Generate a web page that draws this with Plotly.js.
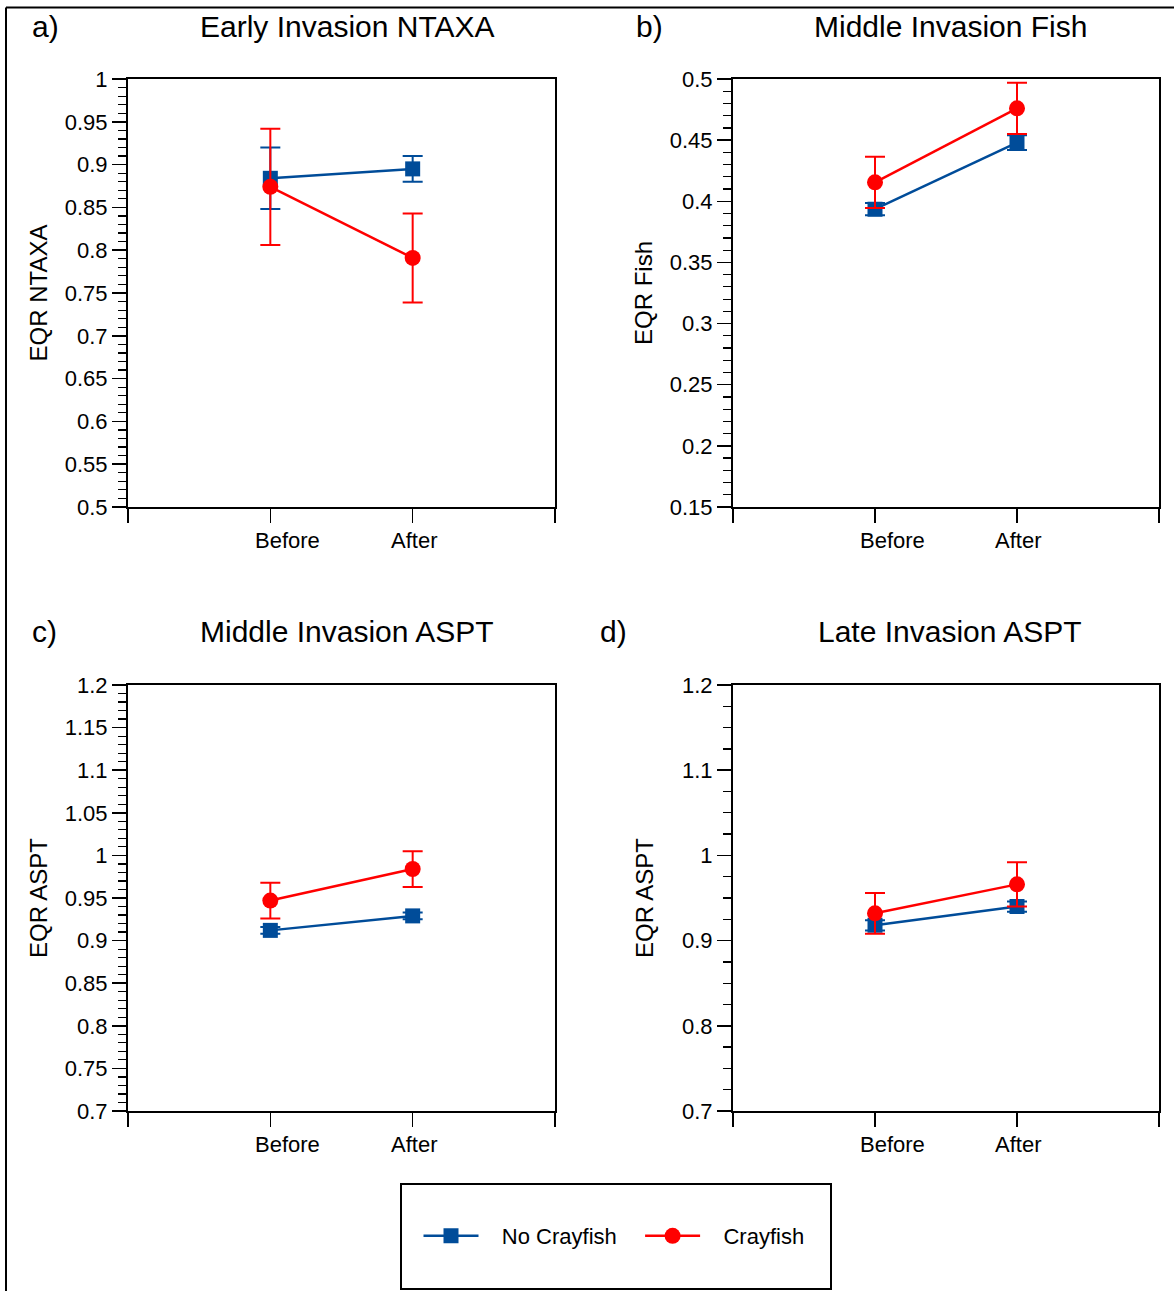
<!DOCTYPE html>
<html>
<head>
<meta charset="utf-8">
<script src="https://cdn.plot.ly/plotly-3.0.1.min.js"></script>
<style>html,body{margin:0;padding:0;background:#fff}#chart{width:1174px;height:1291px}</style>
</head>
<body>
<div id="chart"></div>
<script>
// ---- data ----
const categories = ['Before', 'After'];
const seriesNames = ['No Crayfish', 'Crayfish'];

const panelTitles = ['Early Invasion NTAXA', 'Middle Invasion Fish', 'Middle Invasion ASPT', 'Late Invasion ASPT'];
const panelLetters = ['a)', 'b)', 'c)', 'd)'];
const yTitles = ['EQR NTAXA', 'EQR Fish', 'EQR ASPT', 'EQR ASPT'];

// panel a: Early Invasion NTAXA
const ntaxaNoCray = [0.884, 0.895];
const ntaxaNoCrayErr = [0.036, 0.015];
const ntaxaCray = [0.874, 0.791];
const ntaxaCrayErr = [0.068, 0.052];

// panel b: Middle Invasion Fish
const fishNoCray = [0.3935, 0.448];
const fishNoCrayErr = [0.005, 0.006];
const fishCray = [0.4155, 0.476];
const fishCrayErr = [0.021, 0.021];

// panel c: Middle Invasion ASPT
const asptMidNoCray = [0.912, 0.929];
const asptMidNoCrayErr = [0.004, 0.004];
const asptMidCray = [0.947, 0.984];
const asptMidCrayErr = [0.021, 0.021];

// panel d: Late Invasion ASPT
const asptLateNoCray = [0.918, 0.940];
const asptLateNoCrayErr = [0.006, 0.006];
const asptLateCray = [0.932, 0.966];
const asptLateCrayErr = [0.024, 0.026];

// axis ranges / ticks
const yRanges = [[0.5, 1], [0.15, 0.5], [0.7, 1.2], [0.7, 1.2]];
const yMajor = [0.05, 0.05, 0.05, 0.1];
const yMinor = [0.01, 0.01, 0.01, 0.025];

// ---- build ----
const W = 1174, H = 1291;
const px = v => v / W;
const py = v => 1 - v / H;

const blue = 'rgb(0,76,153)';
const red = 'rgb(255,0,0)';
const font = 'Liberation Sans, Arial, sans-serif';
const NB = '\u00A0';

const xNum = categories.map((c, i) => i + 1);

const panelData = [
  [ntaxaNoCray, ntaxaNoCrayErr, ntaxaCray, ntaxaCrayErr],
  [fishNoCray, fishNoCrayErr, fishCray, fishCrayErr],
  [asptMidNoCray, asptMidNoCrayErr, asptMidCray, asptMidCrayErr],
  [asptLateNoCray, asptLateNoCrayErr, asptLateCray, asptLateCrayErr]
];

// plot frames (pixels): [x0, x1, ytop, ybottom]
const frames = [
  [128, 555, 79, 507],
  [733, 1159, 79, 507],
  [128, 555, 685, 1111],
  [733, 1159, 685, 1111]
];
const titleStandoff = [10, 10, 10, 22];

const traces = [];
const layout = {
  width: W, height: H,
  margin: {l: 0, r: 0, t: 0, b: 0},
  paper_bgcolor: '#fff', plot_bgcolor: '#fff',
  font: {family: font, color: '#000', size: 22},
  showlegend: true,
  legend: {
    orientation: 'h', x: px(614), y: py(1236), xanchor: 'center', yanchor: 'middle',
    font: {family: font, size: 22, color: '#000'},
    bgcolor: 'rgba(0,0,0,0)', borderwidth: 0, itemwidth: 55, tracegroupgap: 0
  },
  annotations: [],
  shapes: []
};

const legendNames = [NB + NB + NB + seriesNames[0] + NB + NB + NB, NB + NB + NB + seriesNames[1]];

panelData.forEach((d, p) => {
  const ax = p === 0 ? '' : String(p + 1);
  const xa = 'x' + ax, ya = 'y' + ax;
  const [nc, ncE, c, cE] = d;
  traces.push({
    x: xNum, y: nc, xaxis: xa, yaxis: ya, type: 'scatter', mode: 'lines+markers',
    name: legendNames[0], showlegend: p === 0, legendgroup: 'nc',
    line: {color: blue, width: 2.5},
    marker: {symbol: 'square', size: 15, color: blue},
    error_y: {type: 'data', array: ncE, visible: true, color: blue, thickness: 2, width: 10},
    cliponaxis: false
  });
  traces.push({
    x: xNum, y: c, xaxis: xa, yaxis: ya, type: 'scatter', mode: 'lines+markers',
    name: legendNames[1], showlegend: p === 0, legendgroup: 'c',
    line: {color: red, width: 2.5},
    marker: {symbol: 'circle', size: 16, color: red},
    error_y: {type: 'data', array: cE, visible: true, color: red, thickness: 2, width: 10},
    cliponaxis: false
  });

  const f = frames[p];
  layout['xaxis' + ax] = {
    domain: [px(f[0]), px(f[1])],
    anchor: ya, range: [0, categories.length + 1],
    tickmode: 'array', tickvals: [0].concat(xNum, [categories.length + 1]),
    ticktext: [''].concat(categories.map(() => ''), ['']),
    ticks: 'outside', ticklen: 14, tickwidth: 1.5, tickcolor: '#000',
    showline: true, linewidth: 2, linecolor: '#000', mirror: true,
    showgrid: false, zeroline: false, fixedrange: true
  };
  layout['yaxis' + ax] = {
    domain: [py(f[3]), py(f[2])],
    anchor: xa, range: yRanges[p],
    tick0: 0, dtick: yMajor[p],
    ticks: 'outside', ticklen: 14, tickwidth: 1.5, tickcolor: '#000',
    minor: {dtick: yMinor[p], tick0: 0, ticks: 'outside', ticklen: 8, tickwidth: 1.2, tickcolor: '#000', showgrid: false},
    tickfont: {family: font, size: 22, color: '#000'},
    showline: true, linewidth: 2, linecolor: '#000', mirror: true,
    showgrid: false, zeroline: false, fixedrange: true,
    title: {text: yTitles[p], font: {family: font, size: 24, color: '#000'}, standoff: titleStandoff[p]}
  };

  // category labels
  const labelX = [1.124, 2.01];
  categories.forEach((cat, i) => {
    layout.annotations.push({
      text: cat, xref: xa, yref: 'paper', x: labelX[i], y: py(f[3] + 33),
      xanchor: 'center', yanchor: 'middle', showarrow: false,
      font: {family: font, size: 22, color: '#000'}
    });
  });
});

// titles and panel letters
const titleCx = [347, 950, 346, 950];
const titleCy = [27, 27, 632, 632];
const letterX = [30, 634, 30, 598];
panelTitles.forEach((t, p) => {
  layout.annotations.push({
    text: t, xref: 'paper', yref: 'paper', x: px(titleCx[p]), y: py(titleCy[p]),
    xanchor: 'center', yanchor: 'middle', showarrow: false,
    font: {family: font, size: 30, color: '#000'}
  });
  layout.annotations.push({
    text: panelLetters[p], xref: 'paper', yref: 'paper', x: px(letterX[p]), y: py(titleCy[p]),
    xanchor: 'left', yanchor: 'middle', showarrow: false,
    font: {family: font, size: 30, color: '#000'}
  });
});

// outer border (top and left) and legend box
layout.shapes.push({type: 'line', xref: 'paper', yref: 'paper', x0: px(6), x1: 1, y0: py(7.5), y1: py(7.5), line: {color: '#000', width: 2}});
layout.shapes.push({type: 'line', xref: 'paper', yref: 'paper', x0: px(6), x1: px(6), y0: py(7.5), y1: 0, line: {color: '#000', width: 2}});
layout.shapes.push({type: 'rect', xref: 'paper', yref: 'paper', x0: px(401), x1: px(831), y0: py(1184), y1: py(1289), line: {color: '#000', width: 2}});

Plotly.newPlot('chart', traces, layout, {displayModeBar: false, staticPlot: true});
</script>
</body>
</html>
